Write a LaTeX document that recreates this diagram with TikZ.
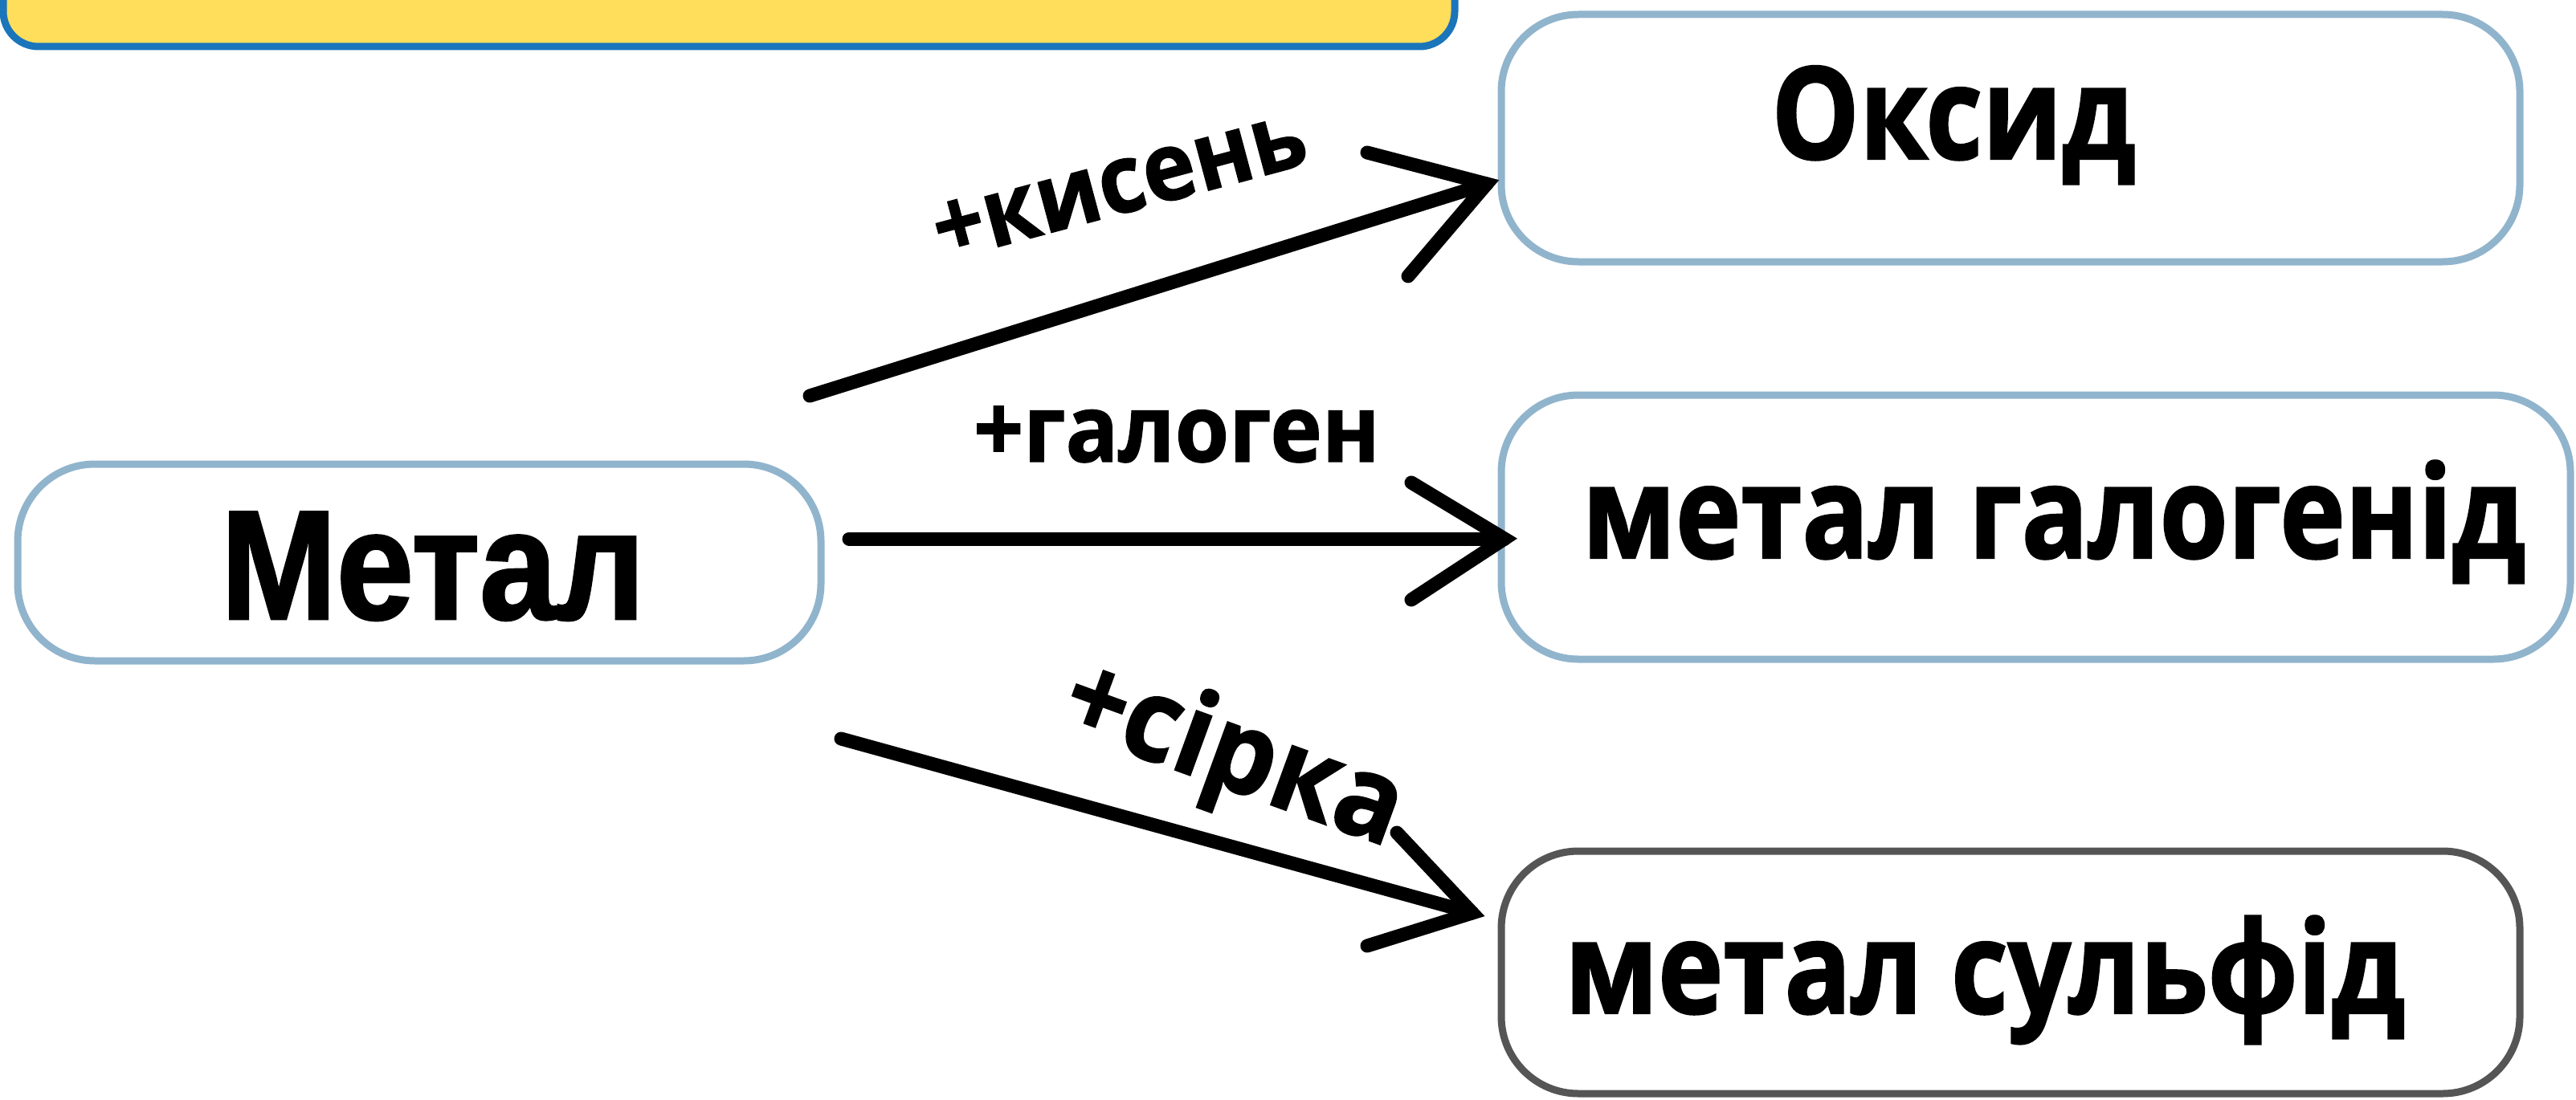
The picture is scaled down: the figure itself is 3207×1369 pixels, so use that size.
\documentclass[tikz,border=0pt]{standalone}
\usepackage{fontspec}
\newfontfamily\osansbig[FakeStretch=0.86,FakeBold=1.5]{Open Sans}
\newfontfamily\osanslab[FakeStretch=0.94,FakeBold=1.2]{Open Sans}
\newfontfamily\lsans[FakeStretch=0.89,FakeBold=1.5]{Liberation Sans}
\definecolor{ylw}{RGB}{254,222,90}
\definecolor{blu}{RGB}{27,117,187}
\definecolor{bordblue}{RGB}{145,180,205}
\definecolor{bordgray}{RGB}{85,85,85}
\tikzset{
  boxshape/.style={draw=bordblue, line width=2.25pt, fill=white, rounded corners=24pt},
  arrowline/.style={line width=4.25pt, line cap=round, line join=miter},
  bigtext/.style={font=\osansbig\bfseries\fontsize{40}{40}\selectfont, inner sep=0},
  labeltext/.style={font=\osanslab\bfseries\fontsize{29}{29}\selectfont, inner sep=0},
}
\begin{document}
\begin{tikzpicture}[x=0.25pt,y=-0.25pt]
\useasboundingbox (0,0) rectangle (3207,1369);
\clip (0,0) rectangle (3207,1369);
% title banner (cut off)
\draw[draw=blu, fill=ylw, line width=2.25pt, rounded corners=11pt] (4,-150) rectangle (1811,58);
% boxes
\draw[boxshape] (22,578) rectangle (1022,823);
\draw[boxshape] (1869,18) rectangle (3137,326);
\draw[boxshape] (1869,492) rectangle (3200,821);
\draw[boxshape, draw=bordgray] (1869,1060) rectangle (3137,1362);
% texts
\node[anchor=base, inner sep=0, font=\lsans\bfseries\fontsize{48.5}{48.5}\selectfont] (metal) at (539,771) {Метал};
\node[bigtext, anchor=base] (oxide) at (2432,198) {Оксид};
\node[bigtext, anchor=base] (halide) at (2557,695) {метал галогенід};
\node[bigtext, anchor=base] (sulfide) at (2471,1262) {метал сульфід};
\node[labeltext, anchor=base] (lhal) at (1465,575) {+галоген};
\node[labeltext, rotate=15, font=\osanslab\bfseries\fontsize{29.5}{29.5}\selectfont] (lox) at (1394,231) {+кисень};
\node[labeltext, rotate=-20, font=\osanslab\bfseries\fontsize{36}{36}\selectfont] (lsul) at (1534,945) {+сірка};
% arrows
\coordinate (s1) at (1008,493); \coordinate (t1) at (1851,229);
\coordinate (a1) at (1702,190); \coordinate (b1) at (1753,344);
\coordinate (s2) at (1057,671); \coordinate (t2) at (1873,671);
\coordinate (a2) at (1757,601); \coordinate (b2) at (1757,747);
\coordinate (s3) at (1047,920); \coordinate (t3) at (1833,1137);
\coordinate (a3) at (1739,1037); \coordinate (b3) at (1702,1178);
\draw[arrowline] (s1) -- (t1);
\draw[arrowline] (a1) -- (t1) -- (b1);
\draw[arrowline] (s2) -- (t2);
\draw[arrowline] (a2) -- (t2) -- (b2);
\draw[arrowline] (s3) -- (t3);
\draw[arrowline] (a3) -- (t3) -- (b3);
\end{tikzpicture}
\end{document}
